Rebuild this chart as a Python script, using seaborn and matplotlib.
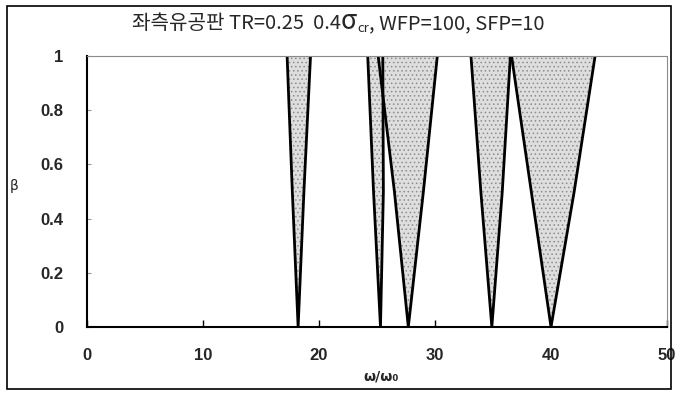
import numpy as np
import pandas as pd
import matplotlib
matplotlib.use("Agg")
import matplotlib.pyplot as plt
import seaborn as sns
from matplotlib.patches import Rectangle

# ---- data ----
beta_levels = [0.0, 0.5, 1.0]
wedge_bottom = [18.2, 25.3, 27.7, 34.9, 40.0]     # omega/omega0 at beta = 0
mid_left = [17.7, 24.7, 26.5, 33.95, 38.3]        # left edge at beta = 0.5
mid_right = [18.7, 25.55, 29.0, 35.8, 42.0]       # right edge at beta = 0.5
top_left = [17.25, 24.2, 25.1, 33.1, 36.6]        # left edge at beta = 1
top_right = [19.27, 25.5, 30.2, 36.5, 43.8]       # right edge at beta = 1
x_ticks = [0, 10, 20, 30, 40, 50]
y_ticks = [0, 0.2, 0.4, 0.6, 0.8, 1.0]
y_ticklabels = ["0", "0.2", "0.4", "0.6", "0.8", "1"]

sns.set_theme(style="white")
plt.rcParams["font.family"] = ["Noto Sans CJK KR", "DejaVu Sans"]
plt.rcParams["hatch.linewidth"] = 0.6

W, H = 676, 394
fig = plt.figure(figsize=(W / 100, H / 100), dpi=100)
ax = fig.add_axes([87 / W, 1 - 327 / H, (667 - 87) / W, (327 - 56) / H])

rows = []
for i in range(len(wedge_bottom)):
    xs = [top_left[i], mid_left[i], wedge_bottom[i], mid_right[i], top_right[i]]
    ys = [beta_levels[2], beta_levels[1], beta_levels[0], beta_levels[1], beta_levels[2]]
    ax.fill(xs, ys, facecolor="#dedede", edgecolor="#8c8c8c", hatch="....",
            lw=0, zorder=1)
    for k, (xx, yy) in enumerate(zip(xs, ys)):
        rows.append({"w": i, "k": k, "x": xx, "y": yy})
df = pd.DataFrame(rows)
sns.lineplot(data=df, x="x", y="y", units="w", estimator=None, sort=False,
             color="black", lw=2.0, ax=ax, zorder=2)

ax.set_xlim(0, 50)
ax.set_ylim(0, 1)
ax.set_xticks(x_ticks)
ax.set_yticks(y_ticks)
ax.set_yticklabels(y_ticklabels)
ax.set_xlabel("")
ax.set_ylabel("")
for lab in ax.get_xticklabels() + ax.get_yticklabels():
    lab.set_fontfamily("Liberation Sans")
    lab.set_fontsize(12)
    lab.set_fontweight("bold")
ax.tick_params(axis="x", direction="in", length=5, width=1, color="black", pad=15, bottom=True)
ax.tick_params(axis="y", direction="in", length=3, width=0.8, color="#999999", pad=17, left=True)
for s in ["left", "bottom"]:
    ax.spines[s].set_color("black")
    ax.spines[s].set_linewidth(1.5)
for s in ["top", "right"]:
    ax.spines[s].set_color("#8a8a8a")
    ax.spines[s].set_linewidth(0.8)
    ax.spines[s].set_linestyle((0, (1.5, 1)))

# outer frame
fig.patches.append(Rectangle((7 / W, 1 - 389 / H), (671 - 7) / W, (389 - 6) / H,
                             transform=fig.transFigure, fill=False,
                             edgecolor="black", lw=1.2))

# title assembled from pieces
fig.canvas.draw()
renderer = fig.canvas.get_renderer()
pieces = [("좌측유공판 TR=0.25  0.4", 14.5, 0), ("σ", 19, 0), ("cr", 9.5, -3),
          (", WFP=100, SFP=10", 14.5, 0)]
texts = []
for s, fs, dy in pieces:
    t = fig.text(0, 0, s, fontsize=fs,
                 family=["Noto Sans CJK KR", "DejaVu Sans"], va="baseline")
    texts.append((t, dy))
widths = [t.get_window_extent(renderer).width for t, dy in texts]
total = sum(widths)
x0 = 338 - total / 2
base = H - 29
cx = x0
for (t, dy), w in zip(texts, widths):
    t.set_position((cx / W, (base + dy) / H))
    cx += w

fig.text(381 / W, 1 - 376 / H, "ω/ω₀", fontsize=10, ha="center", va="center",
         family=["DejaVu Sans"], fontweight="bold")
fig.text(14 / W, 1 - 186 / H, "β", fontsize=10, ha="center", va="center",
         family=["DejaVu Sans"])

fig.savefig("out.png", dpi=100)
